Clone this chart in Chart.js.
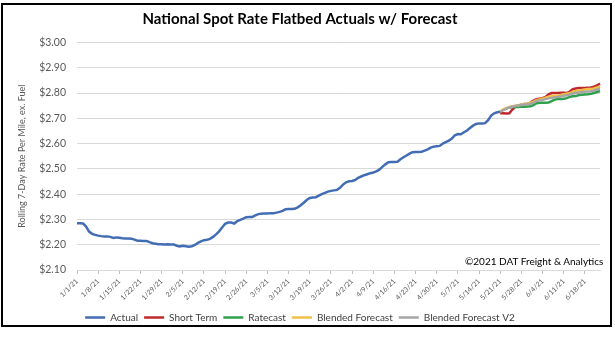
<!DOCTYPE html>
<html><head><meta charset="utf-8">
<script src="https://cdn.jsdelivr.net/npm/chart.js@4.4.1/dist/chart.umd.min.js"></script>
<style>
html,body{margin:0;padding:0;background:#fff;}
#wrap{position:relative;width:615px;height:337px;overflow:hidden;}
#frame{position:absolute;left:1px;top:3px;width:607px;height:320px;border:2px solid #000;pointer-events:none;}
#copy{position:absolute;left:465px;top:255px;font:10px Lato, sans-serif;color:#000;white-space:nowrap;}
</style></head><body>
<div id="wrap"><canvas id="c" width="615" height="337"></canvas>
<div id="frame"></div><div id="copy">©2021 DAT Freight &amp; Analytics</div></div>
<script>
// ---- data ----
const title = 'National Spot Rate Flatbed Actuals w/ Forecast';
const yTitle = 'Rolling 7-Day Rate Per Mile, ex. Fuel';
const seriesNames = ['Actual', 'Short Term', 'Ratecast', 'Blended Forecast', 'Blended Forecast V2'];
const dayCount = 174; // 1/1/21 .. 6/23/21
const categories = [];
for (let i = 0; i < dayCount; i++) {
  const d = new Date(2021, 0, 1 + i);
  categories.push((d.getMonth() + 1) + '/' + d.getDate() + '/21');
}
const tickEvery = 7;
const actual = [
  2.285,2.285,2.284,2.272,2.252,2.243,2.239,2.236,2.234,2.233,
  2.233,2.231,2.227,2.229,2.228,2.226,2.225,2.225,2.224,2.220,
  2.216,2.216,2.215,2.215,2.210,2.206,2.204,2.202,2.202,2.201,
  2.202,2.201,2.201,2.196,2.193,2.196,2.194,2.192,2.194,2.199,
  2.207,2.213,2.218,2.220,2.223,2.231,2.241,2.253,2.268,2.283,
  2.288,2.288,2.284,2.293,2.298,2.303,2.309,2.310,2.310,2.316,
  2.321,2.323,2.324,2.324,2.325,2.325,2.327,2.330,2.334,2.340,
  2.341,2.341,2.342,2.348,2.356,2.366,2.377,2.385,2.387,2.388,
  2.394,2.400,2.405,2.410,2.413,2.415,2.417,2.425,2.438,2.447,
  2.451,2.452,2.456,2.465,2.470,2.475,2.479,2.483,2.486,2.490,
  2.497,2.508,2.518,2.526,2.527,2.527,2.528,2.538,2.546,2.553,
  2.560,2.566,2.567,2.567,2.568,2.572,2.577,2.584,2.588,2.590,
  2.591,2.600,2.606,2.612,2.620,2.633,2.638,2.637,2.645,2.652,
  2.662,2.671,2.678,2.680,2.680,2.681,2.693,2.711,2.720,2.724,
  2.726
];
const forecastStart = 140;
const shortTerm = [
  2.720,2.720,2.719,2.720,2.735,2.746,2.750,2.754,2.757,2.758,
  2.762,2.770,2.776,2.778,2.780,2.785,2.795,2.800,2.800,2.800,
  2.801,2.801,2.800,2.806,2.815,2.818,2.820,2.820,2.820,2.821,
  2.822,2.825,2.830,2.837
];
const ratecastStart = 143;
const ratecast = [
  2.742,2.745,2.746,2.745,2.746,2.746,2.747,2.748,2.752,2.760,
  2.762,2.762,2.762,2.763,2.768,2.774,2.776,2.776,2.777,2.780,
  2.785,2.787,2.788,2.792,2.793,2.794,2.795,2.797,2.800,2.804,
  2.808
];
const blended = [
  2.728,2.735,2.740,2.745,2.748,2.750,2.752,2.755,2.757,2.758,
  2.762,2.766,2.772,2.775,2.778,2.782,2.785,2.787,2.789,2.789,
  2.792,2.795,2.797,2.800,2.805,2.808,2.810,2.812,2.814,2.816,
  2.816,2.818,2.822,2.826
];
const blendedV2 = [
  2.726,2.732,2.738,2.743,2.746,2.749,2.751,2.753,2.755,2.756,
  2.758,2.762,2.768,2.771,2.773,2.776,2.779,2.781,2.783,2.784,
  2.786,2.789,2.791,2.794,2.798,2.800,2.802,2.804,2.805,2.806,
  2.807,2.810,2.814,2.818
];
const yMin = 2.10, yMax = 3.00, yStep = 0.05;
const colors = ['#426DB5', '#C0282D', '#2EA04E', '#F2BF45', '#A5A5A5'];

// ---- build ----
const pad = (start, arr) => Array(start).fill(null).concat(arr);
const seriesData = [actual, pad(forecastStart, shortTerm), pad(ratecastStart, ratecast),
  pad(forecastStart, blended), pad(forecastStart, blendedV2)];
const datasets = seriesNames.map((name, i) => ({
  label: name, data: seriesData[i], borderColor: colors[i], backgroundColor: colors[i],
  borderWidth: 2.5, pointRadius: 0, pointStyle: 'line', tension: 0, fill: false, order: 5 - i
}));

new Chart(document.getElementById('c'), {
  type: 'line',
  data: { labels: categories, datasets },
  options: {
    responsive: false, animation: false, devicePixelRatio: 1, events: [],
    layout: { padding: { left: 0, right: 15, top: 0, bottom: 4.5 } },
    plugins: {
      tooltip: { enabled: false },
      title: { display: true, text: title, color: '#000',
        font: { family: 'Lato', size: 15, weight: 'bold' }, padding: { top: 10, bottom: 14.5 } },
      legend: { display: true, position: 'bottom', reverse: true,
        labels: { color: '#404040', font: { family: 'Lato', size: 10 }, usePointStyle: true,
          pointStyleWidth: 20, boxHeight: 10, padding: 6 } }
    },
    scales: {
      y: {
        min: yMin, max: yMax,
        afterFit: s => { s.width = 77; },
        ticks: { stepSize: yStep, color: '#595959', padding: 11, font: { family: 'Lato', size: 10.5 },
          callback: v => '$' + Number(v).toFixed(2) },
        grid: { color: '#d9d9d9', lineWidth: 1, drawTicks: false },
        border: { display: false },
        title: { display: true, text: yTitle, color: '#595959', font: { family: 'Lato', size: 9 }, padding: { top: 16.5, bottom: 0 } }
      },
      x: {
        afterFit: s => { s.height = 36.5; },
        ticks: { autoSkip: false, maxRotation: 45, minRotation: 45, padding: 3, color: '#595959',
          font: { family: 'Lato', size: 7 },
          callback: function (v, i) { return i % tickEvery === 0 ? categories[i] : ''; } },
        grid: { drawOnChartArea: false, tickLength: 4,
          tickColor: c => (c.index % tickEvery === 0 ? '#bfbfbf' : 'rgba(0,0,0,0)') },
        border: { display: true, color: '#d9d9d9' }
      }
    }
  }
});
</script>
</body></html>
